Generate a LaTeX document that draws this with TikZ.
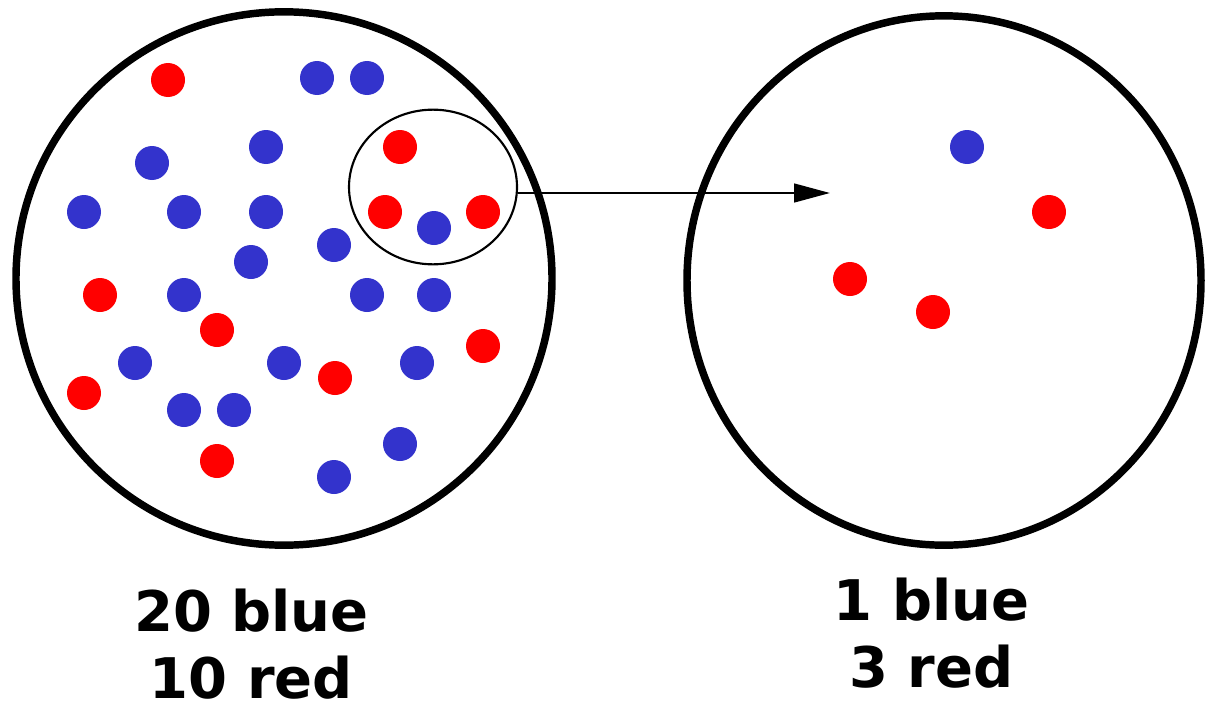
\documentclass[tikz,border=0pt]{standalone}
\usepackage{fontspec}
\setsansfont{DejaVu Sans}
\usepackage{xcolor}
\usetikzlibrary{shapes.geometric, arrows.meta, positioning}

\definecolor{dotblue}{RGB}{51,51,204}
\definecolor{dotred}{RGB}{255,0,0}

\begin{document}
\begin{tikzpicture}[
  x=0.75pt, y=-0.75pt,
  % --- Circles ---
  pool/.style={ellipse, draw=black, line width=5.6pt, inner sep=0pt},
  pick/.style={ellipse, draw=black, line width=1.6pt, inner sep=0pt},
  % --- Dots ---
  dot/.style={circle, inner sep=0pt, minimum size=25.5pt},
  bluedot/.style={dot, fill=dotblue},
  reddot/.style={dot, fill=dotred},
  % --- Arrow ---
  flow/.style={-{Triangle[length=27pt, width=14pt]}, line width=1.9pt},
  % --- Labels ---
  countlbl/.style={font=\sffamily\bfseries\fontsize{42}{50}\selectfont,
    align=center, inner sep=0pt, anchor=north},
]
\useasboundingbox (0,0) rectangle (1205,710);

% ===================== POPULATION =====================
\node[pool, minimum width=402pt, minimum height=400pt] (popu) at (284,278.5) {};

\foreach \px/\py [count=\i] in {317/78, 367/78, 266/147, 152/163, 84/212,
    184/212, 266/212, 434/228, 334/245, 251/262, 184/295, 367/295, 434/295,
    135/363, 284/363, 417/363, 184/410, 234/410, 400/444, 334/477}
  \node[bluedot] (pb\i) at (\px,\py) {};

\foreach \px/\py [count=\i] in {168/80, 400/147, 385/212, 483/212, 100/295,
    217/330, 483/346, 84/393, 335/378, 217/461}
  \node[reddot] (pr\i) at (\px,\py) {};

\node[pick, minimum width=126pt, minimum height=116pt] (pick) at (433,187) {};

% ===================== SAMPLE =====================
\node[pool, minimum width=385.5pt, minimum height=397pt] (samp) at (944,280.5) {};

\node[bluedot] (sb1) at (967,147) {};
\node[reddot] (sr1) at (1049,212) {};
\node[reddot] (sr2) at (850,279) {};
\node[reddot] (sr3) at (933,312) {};

% ===================== ARROW =====================
\coordinate (tip) at (830,193);
\draw[flow] (pick.east |- tip) -- (tip);

% ===================== COUNTS =====================
\node[countlbl] (popcount) at (251.5,589) {20 blue\\10 red};
\node[countlbl] (sampcount) at (931.5,578) {1 blue\\3 red};

\end{tikzpicture}
\end{document}
